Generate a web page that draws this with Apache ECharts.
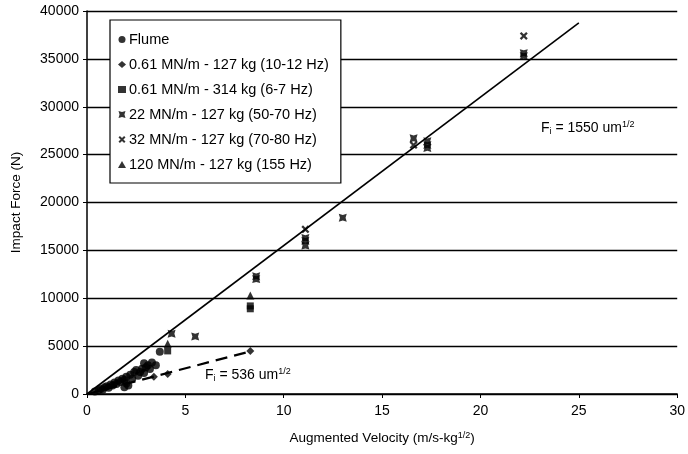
<!DOCTYPE html>
<html><head><meta charset="utf-8">
<script src="https://cdn.jsdelivr.net/npm/echarts@6/dist/echarts.min.js"></script>
<style>html,body{margin:0;padding:0;background:#fff}#c{width:688px;height:454px}</style>
</head><body><div id="c"></div>
<script>
var xTicks = [0, 5, 10, 15, 20, 25, 30];
var yTicks = [0, 5000, 10000, 15000, 20000, 25000, 30000, 35000, 40000];
var seriesNames = ['Flume', '0.61 MN/m - 127 kg (10-12 Hz)', '0.61 MN/m - 314 kg (6-7 Hz)', '22 MN/m - 127 kg (50-70 Hz)', '32 MN/m - 127 kg (70-80 Hz)', '120 MN/m - 127 kg (155 Hz)'];
var flume = [[0.4,250],[0.6,400],[0.7,550],[0.8,450],[0.9,700],[1.0,800],[1.1,650],[1.2,1000],[1.3,900],[1.4,1200],[1.5,1050],[1.6,1400],[1.7,1250],[1.8,1600],[1.9,1450],[1.9,700],[2.0,1800],[2.0,1100],[2.1,900],[2.2,2000],[2.3,1600],[2.4,2300],[2.5,2500],[2.6,1900],[2.7,2300],[2.8,2650],[2.9,2200],[2.9,3200],[3.0,2800],[3.1,3000],[3.2,2600],[3.3,3300],[3.5,3000],[3.7,4400]];
var spring061_127 = [[3.4,1800],[4.1,2100],[8.3,4500]];
var spring061_314 = [[4.1,4500],[8.3,8900],[8.3,9200]];
var spring22 = [[4.3,6300],[5.5,6000],[8.6,12000],[8.6,12300],[11.1,15500],[11.1,16000],[11.1,16300],[13.0,18400],[16.6,26700],[17.3,25700],[17.3,26000],[17.3,26400],[22.2,35300],[22.2,35600]];
var spring32 = [[11.1,17200],[16.6,26000],[22.2,37400]];
var spring120 = [[4.1,5250],[8.3,10300]];
var fitUpper = [[0,0],[25,38750]];
var fitLower = [[0,0],[8.3,4450]];

var FONT = 'Liberation Sans, Arial, sans-serif';
var xPath = 'path://M0,2L2,0L5,3L8,0L10,2L7,5L10,8L8,10L5,7L2,10L0,8L3,5Z';
var bowPath = 'path://M0,0L5,1.5L10,0L8.5,5L10,10L5,8.5L0,10L1.5,5Z';
var symbols = ['circle', 'diamond', 'rect', bowPath, xPath, 'triangle'];
var sizes = [8, 8, 7, 8, 8, 8];
var datasets = [flume, spring061_127, spring061_314, spring22, spring32, spring120];

var chart = echarts.init(document.getElementById('c'));
var series = [];
series.push({type:'line', data: fitUpper, symbol:'none', silent:true, lineStyle:{color:'#000', width:1.6}, z:1});
series.push({type:'line', data: fitLower, symbol:'none', silent:true, lineStyle:{color:'#000', width:2.2, type:[12,7]}, z:1});
for (var i = 0; i < datasets.length; i++) {
  series.push({name: seriesNames[i], type:'scatter', data: datasets[i], symbol: symbols[i], symbolSize: sizes[i], itemStyle:{color:'#000'}, z:3});
}
var rich = {sub:{fontSize:9, fontFamily:FONT, fill:'#000', padding:[8,0,0,0]}, sup:{fontSize:9, fontFamily:FONT, fill:'#000', padding:[0,0,7,0]}};
chart.setOption({
  animation:false,
  backgroundColor:'#fff',
  grid:{left:87, right:4, top:11, bottom:60},
  xAxis:{type:'value', min:0, max:30, interval:5,
    axisLine:{lineStyle:{color:'#000', width:1.5}}, axisTick:{show:true, length:4, lineStyle:{color:'#000'}},
    axisLabel:{color:'#000', fontSize:14, fontFamily:FONT, margin:10}, splitLine:{show:false},
    name:'Augmented Velocity (m/s-kg{sup|1/2})', nameLocation:'middle', nameGap:37,
    nameTextStyle:{color:'#000', fontSize:13.5, fontFamily:FONT, rich:{sup:{fontSize:9, fontFamily:FONT, color:'#000', verticalAlign:'top', padding:[0,0,6,0]}}}},
  yAxis:{type:'value', min:0, max:40000, interval:5000,
    axisLine:{show:true, lineStyle:{color:'#000', width:1.5}}, axisTick:{show:true, length:4, lineStyle:{color:'#000'}},
    axisLabel:{color:'#000', fontSize:14, fontFamily:FONT, margin:8, formatter:function(v){return String(v);}},
    splitLine:{show:true, lineStyle:{color:'#000', width:1.3}},
    name:'Impact Force (N)', nameLocation:'middle', nameGap:64, nameRotate:90,
    nameTextStyle:{color:'#000', fontSize:13.5, fontFamily:FONT}},
  legend:{data:seriesNames, orient:'vertical', left:110, top:20, itemGap:10, itemWidth:8, itemHeight:7,
    backgroundColor:'#fff', borderColor:'#000', borderWidth:1.2, padding:[12,12,11,8],
    textStyle:{color:'#000', fontSize:14.5, fontFamily:FONT, padding:[0,0,0,-2]}},
  graphic:[
    {type:'text', left:541, top:120, style:{text:'F{sub|i} = 1550 um{sup|1/2}', fill:'#000', font:'14px '+FONT, rich:rich}, z:10},
    {type:'text', left:205, top:367, style:{text:'F{sub|i} = 536 um{sup|1/2}', fill:'#000', font:'14px '+FONT, rich:rich}, z:10}
  ],
  series: series
});
</script></body></html>
